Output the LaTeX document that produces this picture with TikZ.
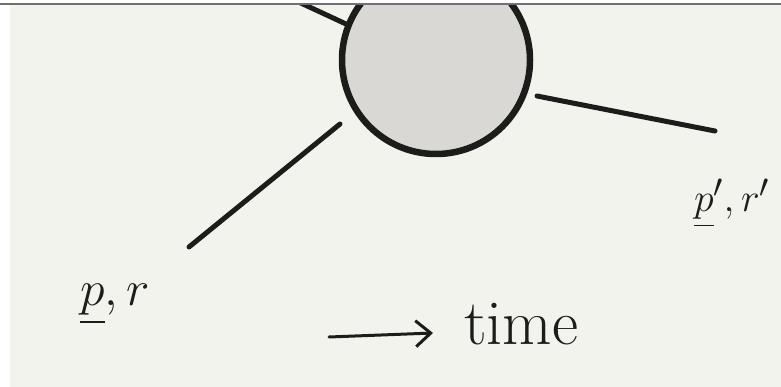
\documentclass[tikz,border=0pt]{standalone}
\usepackage{amsmath, amssymb}
\usepackage{graphicx}
\usepackage{tikz}
\usetikzlibrary{positioning, arrows.meta}
\definecolor{inkblack}{RGB}{28, 28, 26}
\definecolor{paper}{RGB}{243, 243, 238}
\definecolor{blobgray}{RGB}{217, 216, 212}
\definecolor{rulegray}{RGB}{112, 112, 112}
\newcommand{\bigmath}[2][2]{\scalebox{#1}{\fontsize{24.88}{25}\selectfont$#2$}}

\begin{document}
\begin{tikzpicture}[
            x=1pt, y=-1pt,
            vertex/.style={circle, draw=inkblack, fill=blobgray, line width=6.5pt, minimum size=188pt, inner sep=0pt},
            leg/.style={draw=inkblack, line width=5pt, line cap=round},
            tag/.style={text=inkblack, inner sep=0pt},
            arrow/.style={-{Straight Barb[length=15pt, width=26pt, line width=3pt]}, inkblack, line width=3pt, line cap=round}
        ]
            \useasboundingbox (0,0) rectangle (781,387);
            \fill[white] (0,0) rectangle (781,387);
            \fill[paper] (10,5) rectangle (781,387);
            \begin{scope}
                \clip (0,5) rectangle (781,387);
                % incoming and outgoing legs
                \coordinate (topin) at (290,-2);
                \coordinate (topend) at (346,24);
                \draw[leg] (topin) -- (topend);
                \node[vertex] (blob) at (436,60) {};
            \end{scope}
            \draw[rulegray, line width=2pt] (0,4) -- (781,4);

            \coordinate (inA) at (340,124);
            \coordinate (inB) at (189,247);
            \coordinate (outA) at (537,96);
            \coordinate (outB) at (715,131);
            \draw[leg] (inA) -- (inB);
            \draw[leg] (outA) -- (outB);

            \node[tag, anchor=base west] (pin) at (80,305) {\bigmath{\underline{p}, r}};
            \node[tag, anchor=base west] (pout) at (694,212) {\bigmath[1.6]{\underline{p}', r'}};

            % time direction
            \coordinate (tstart) at (329,337);
            \coordinate (tend) at (433,333);
            \draw[arrow] (tstart) -- (tend);
            \node[tag, anchor=base west, font=\fontsize{64}{64}\selectfont] (time) at (464,344) {time};
        \end{tikzpicture}
\end{document}
